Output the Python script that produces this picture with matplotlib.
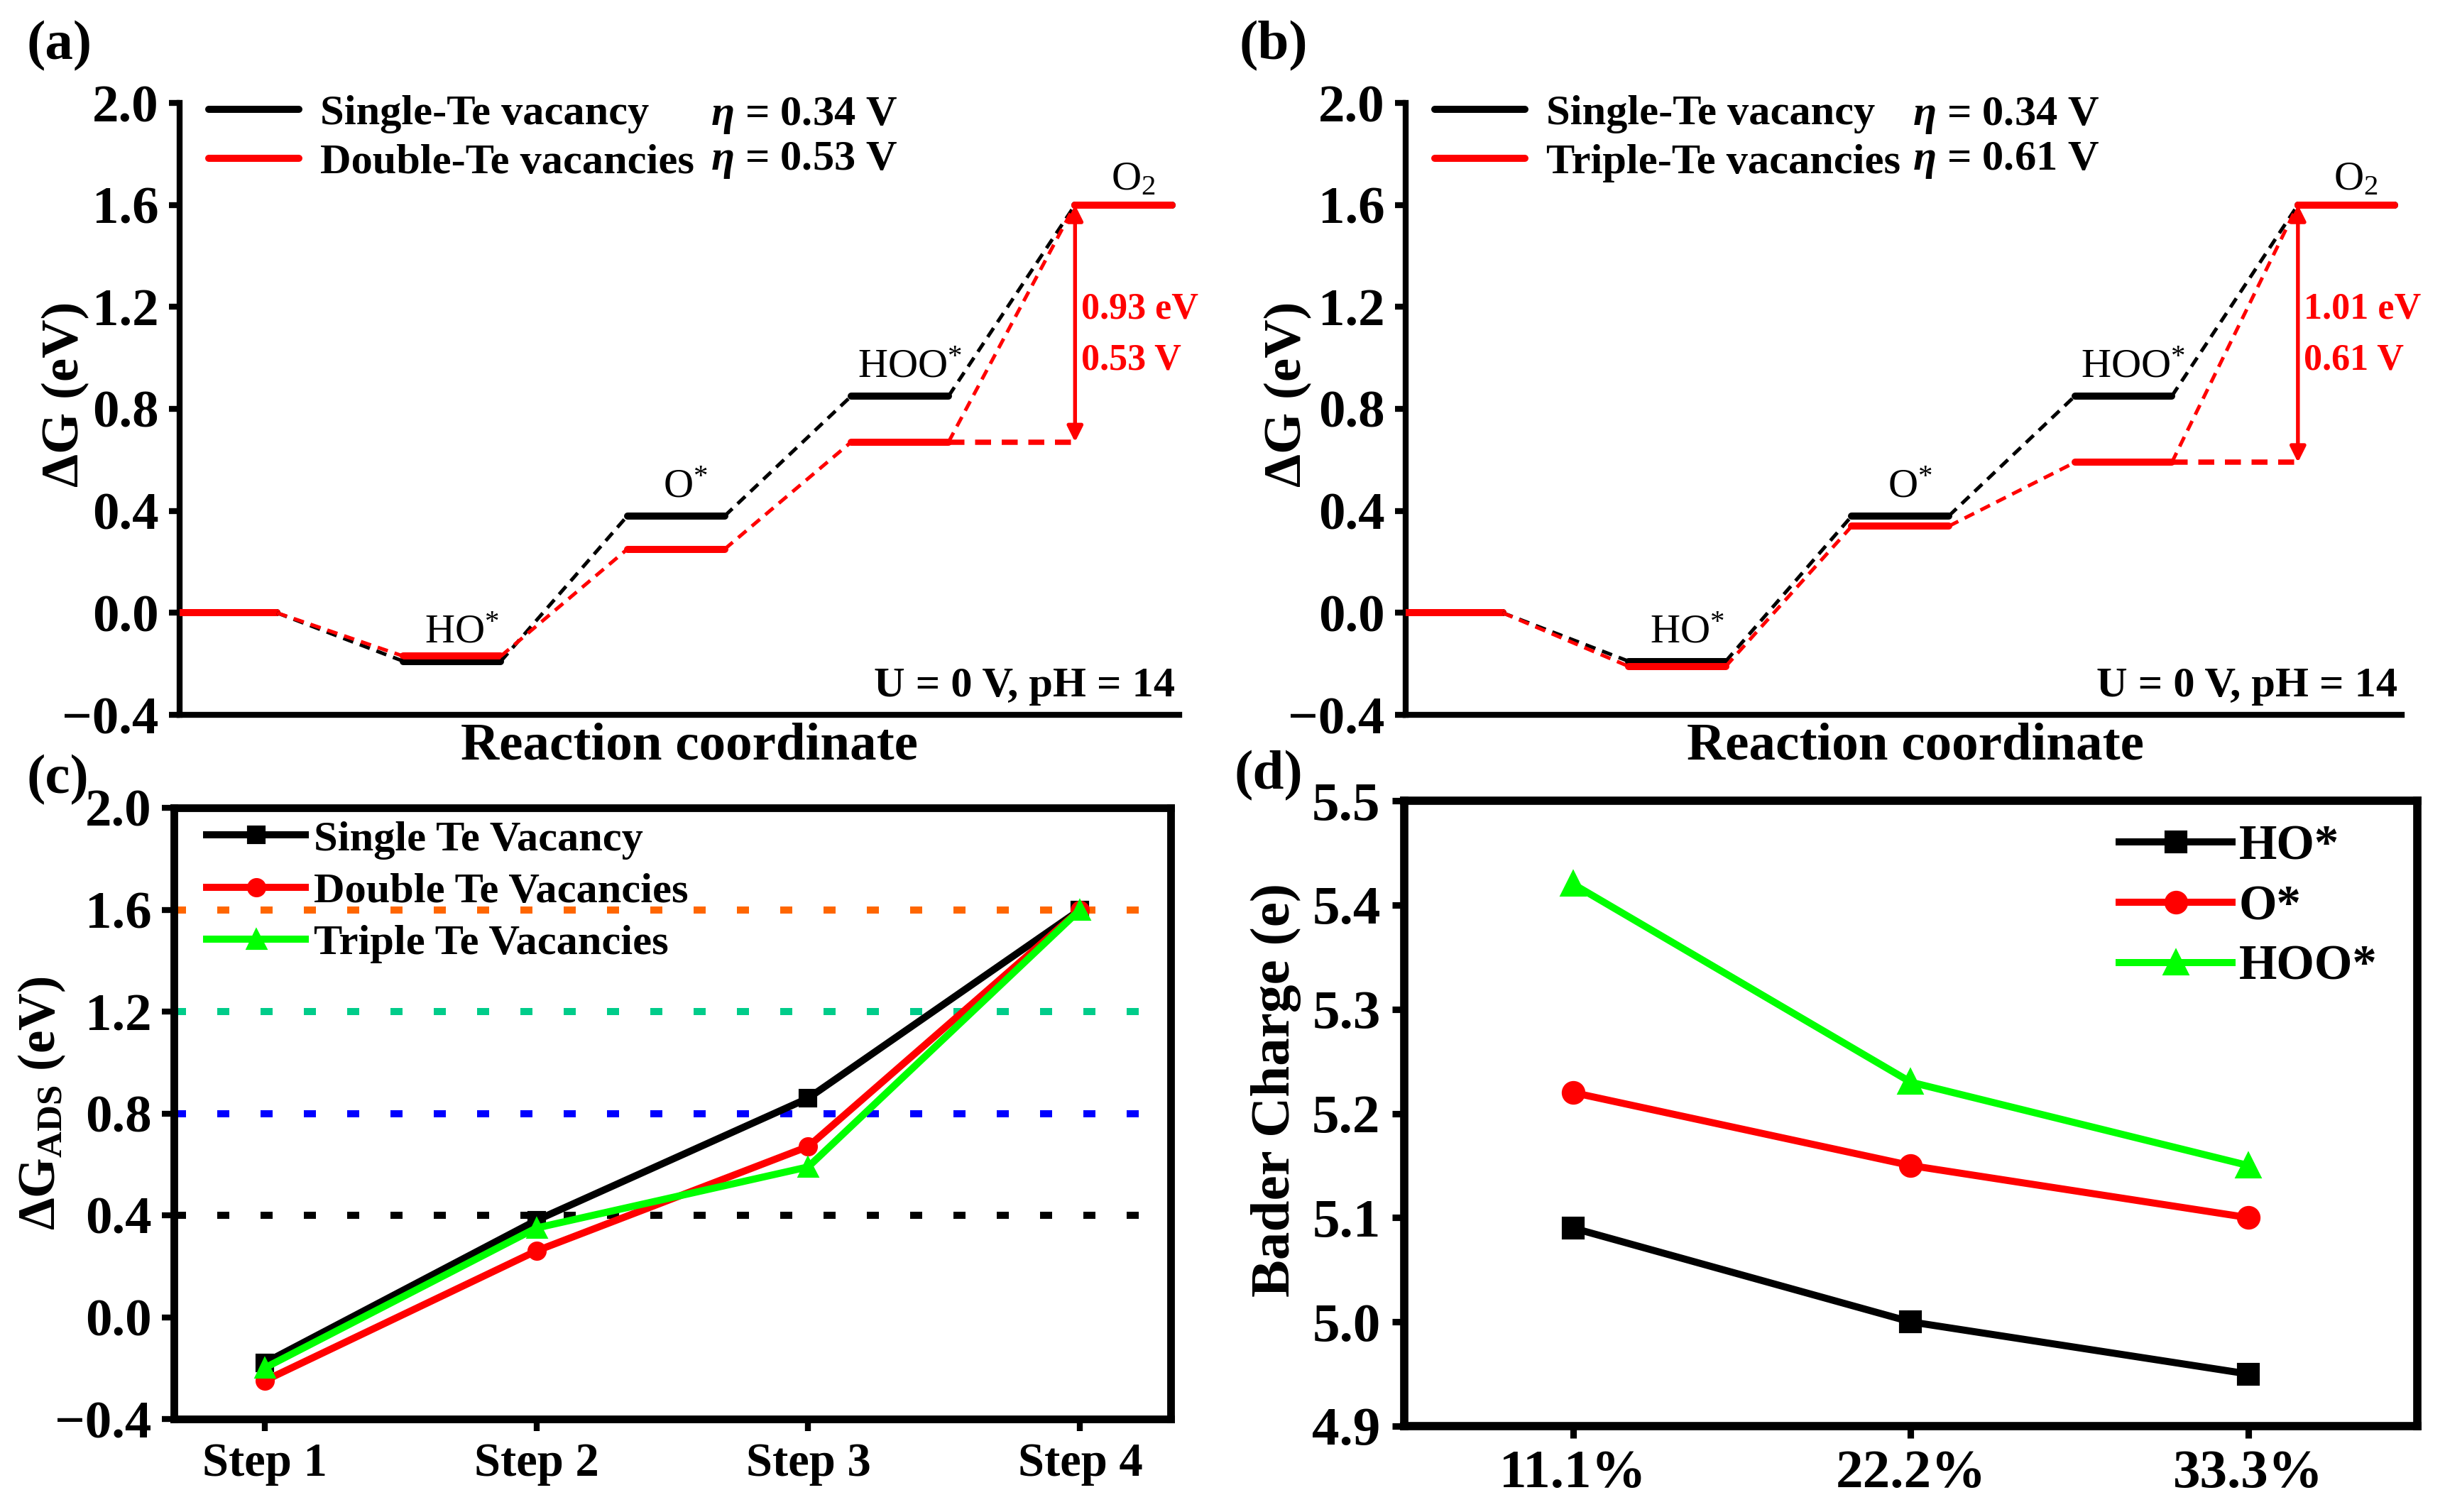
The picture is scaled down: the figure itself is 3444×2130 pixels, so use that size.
import matplotlib
matplotlib.use('Agg')
import matplotlib.pyplot as plt
import numpy as np

plt.rcParams['font.family'] = ['Liberation Serif', 'DejaVu Serif']
plt.rcParams['font.weight'] = 'bold'
plt.rcParams['axes.labelweight'] = 'bold'
plt.rcParams['mathtext.fontset'] = 'custom'
plt.rcParams['mathtext.default'] = 'regular'
plt.rcParams['mathtext.rm'] = 'Liberation Serif'
plt.rcParams['mathtext.it'] = 'Liberation Serif:italic:bold'
plt.rcParams['axes.unicode_minus'] = True

# ---------------- data ----------------
level_labels = ['', 'HO$^{*}$', 'O$^{*}$', 'HOO$^{*}$', 'O$_{2}$']
single_te = [0.0, -0.19, 0.38, 0.85, 1.60]
double_te = [0.0, -0.17, 0.25, 0.67, 1.60]
triple_te = [0.0, -0.21, 0.34, 0.59, 1.60]
eta_single = 0.34
eta_double = 0.53
eta_triple = 0.61
gap_double = 0.93
gap_triple = 1.01

steps = ['Step 1', 'Step 2', 'Step 3', 'Step 4']
ads_single = [-0.18, 0.38, 0.86, 1.60]
ads_double = [-0.25, 0.26, 0.67, 1.60]
ads_triple = [-0.20, 0.35, 0.59, 1.60]
ref_levels = [1.6, 1.2, 0.8, 0.4]
ref_colors = ['#FF6600', '#00CC8A', '#0000FF', '#000000']

coverage = ['11.1%', '22.2%', '33.3%']
bader_ho = [5.09, 5.00, 4.95]
bader_o = [5.22, 5.15, 5.10]
bader_hoo = [5.42, 5.23, 5.15]

W, H = 3445, 2130
fig = plt.figure(figsize=(W / 300, H / 300), dpi=300)

fmt1 = matplotlib.ticker.FuncFormatter(lambda v, p: f'{v:.1f}'.replace('-', '\u2212'))


def frac(l, r, t, b):
    return [l / W, 1 - b / H, (r - l) / W, (b - t) / H]


# ---------------- free-energy panels ----------------
def energy_panel(rect, other, other_label, eta_other, gap, ylab_x, xlab_x, eta_x):
    ax = fig.add_axes(rect)
    pos = np.arange(len(single_te)) * 2.3
    w = 1.0
    # levels
    for i in range(len(single_te)):
        ax.plot([pos[i], pos[i] + w], [single_te[i]] * 2, color='black', lw=2.4,
                solid_capstyle='round', zorder=3,
                label='Single-Te vacancy' if i == 0 else None)
    for i in range(len(other)):
        ax.plot([pos[i], pos[i] + w], [other[i]] * 2, color='red', lw=2.4,
                solid_capstyle='round', zorder=4,
                label=other_label if i == 0 else None)
    # connectors
    for i in range(len(single_te) - 1):
        ax.plot([pos[i] + w, pos[i + 1]], [single_te[i], single_te[i + 1]],
                color='black', lw=1.2, dashes=(3, 2), zorder=5)
        ax.plot([pos[i] + w, pos[i + 1]], [other[i], other[i + 1]],
                color='red', lw=1.2, dashes=(3, 2), zorder=6)
    # horizontal extension + arrow
    ax.plot([pos[3] + w, pos[4]], [other[3], other[3]], color='red', lw=1.8,
            dashes=(3, 2), zorder=6)
    ax.annotate('', xy=(pos[4], other[4]), xytext=(pos[4], other[3]),
                arrowprops=dict(arrowstyle='<|-|>', color='red', lw=1.3,
                                mutation_scale=11, shrinkA=0, shrinkB=0),
                zorder=7)
    ax.text(pos[4] + 0.06, 1.19, f'{gap:.2f} eV', color='red', fontsize=12.5,
            ha='left', va='center')
    ax.text(pos[4] + 0.06, 0.99, f'{eta_other:.2f} V', color='red', fontsize=12.5,
            ha='left', va='center')
    # species labels
    for i in range(1, len(single_te)):
        y = single_te[i] + 0.04 if i < 4 else single_te[i] + 0.025
        ax.text(pos[i] + 0.6, y, level_labels[i], fontsize=14, fontweight='normal',
                ha='center', va='bottom')
    ax.text(0.996, 0.03, 'U = 0 V, pH = 14', transform=ax.transAxes,
            fontsize=14.5, ha='right', va='baseline')
    # eta texts (x in axes fraction, y in data)
    tr = ax.get_yaxis_transform()
    ax.text(eta_x, 1.95, r'$\mathit{\eta}$ = ' + f'{eta_single:.2f} V', fontsize=14.5,
            ha='left', va='center', transform=tr)
    ax.text(eta_x, 1.775, r'$\mathit{\eta}$ = ' + f'{eta_other:.2f} V', fontsize=14.5,
            ha='left', va='center', transform=tr)
    ax.legend(loc='upper left', bbox_to_anchor=(0.029, 1.014), frameon=False,
              fontsize=14.5, handlelength=2.1, handletextpad=0.5,
              borderpad=0, borderaxespad=0, labelspacing=0.22)
    ax.set_xlim(0, 10.27)
    ax.set_ylim(-0.4, 2.0)
    ax.set_yticks(np.arange(-0.4, 2.01, 0.4))
    ax.yaxis.set_major_formatter(fmt1)
    ax.set_xticks([])
    for s in ['top', 'right']:
        ax.spines[s].set_visible(False)
    for s in ['left', 'bottom']:
        ax.spines[s].set_linewidth(2.0)
    ax.tick_params(axis='y', direction='out', length=3.5, width=2.0,
                   labelsize=18, pad=3.5)
    ax.set_ylabel('ΔG (eV)', fontsize=18, va='center', ha='center')
    ax.yaxis.set_label_coords(ylab_x, 0.524)
    ax.set_xlabel('Reaction coordinate', fontsize=18, va='top', ha='center')
    ax.xaxis.set_label_coords(xlab_x, -0.012)
    return ax


axa = energy_panel(frac(253, 1661, 145, 1007), double_te, 'Double-Te vacancies',
                   eta_double, gap_double, -0.114, 0.51, 0.531)
axb = energy_panel(frac(1980, 3383, 145, 1007), triple_te, 'Triple-Te vacancies',
                   eta_triple, gap_triple, -0.118, 0.512, 0.509)

# ---------------- panel (c) ----------------
axc = fig.add_axes(frac(245, 1649, 1138, 1999))
xs = np.arange(1, len(steps) + 1)
for yv, c in zip(ref_levels, ref_colors):
    axc.axhline(yv, color=c, lw=2.4, dashes=(1.7, 4.4), dash_capstyle='butt', zorder=1)
axc.plot(xs, ads_single, color='black', lw=2.4, marker='s', ms=5.5,
         label='Single Te Vacancy', zorder=3)
axc.plot(xs, ads_double, color='red', lw=2.4, marker='o', ms=5.5,
         label='Double Te Vacancies', zorder=4)
axc.plot(xs, ads_triple, color='#00FF00', lw=2.4, marker='^', ms=6,
         label='Triple Te Vacancies', zorder=5)
axc.set_xlim(0.667, 4.333)
axc.set_ylim(-0.4, 2.0)
axc.set_xticks(xs)
axc.set_xticklabels(steps)
axc.set_yticks(np.arange(-0.4, 2.01, 0.4))
axc.yaxis.set_major_formatter(fmt1)
for s in axc.spines.values():
    s.set_linewidth(2.6)
axc.tick_params(axis='y', direction='out', length=4, width=2.0, labelsize=18, pad=3.5)
axc.tick_params(axis='x', direction='out', length=4, width=2.0, labelsize=16, pad=4)
axc.set_ylabel('ΔG$_{ADS}$ (eV)', fontsize=17.5, va='center', ha='center')
axc.yaxis.set_label_coords(-0.132, 0.517)
axc.legend(loc='upper left', bbox_to_anchor=(0.033, 0.98), frameon=False,
           fontsize=14.5, handlelength=2.3, handletextpad=0.2, borderpad=0,
           borderaxespad=0, labelspacing=0.3)

# ---------------- panel (d) ----------------
axd = fig.add_axes(frac(1978, 3405, 1128, 2009))
xd = np.arange(1, len(coverage) + 1)
axd.plot(xd, bader_ho, color='black', lw=2.4, marker='s', ms=6.5, label='HO*')
axd.plot(xd, bader_o, color='red', lw=2.4, marker='o', ms=7, label='O*')
axd.plot(xd, bader_hoo, color='#00FF00', lw=2.4, marker='^', ms=7.5, label='HOO*')
axd.set_xlim(0.5, 3.5)
axd.set_ylim(4.9, 5.5)
axd.set_xticks(xd)
axd.set_xticklabels(coverage)
axd.set_yticks(np.arange(4.9, 5.501, 0.1))
axd.yaxis.set_major_formatter(fmt1)
for s in axd.spines.values():
    s.set_linewidth(2.8)
axd.tick_params(axis='both', direction='out', length=4, width=2.2, labelsize=18.5, pad=4)
axd.set_ylabel('Bader Charge (e)', fontsize=19, va='center', ha='center')
axd.yaxis.set_label_coords(-0.127, 0.538)
axd.legend(loc='upper left', bbox_to_anchor=(0.706, 0.962), frameon=False,
           fontsize=16.5, handlelength=2.3, handletextpad=0.15, borderpad=0,
           borderaxespad=0, labelspacing=0.3)

# ---------------- panel letters ----------------
fig.text(38 / W, 1 - 65 / H, '(a)', fontsize=19, ha='left', va='center')
fig.text(1746 / W, 1 - 65 / H, '(b)', fontsize=19, ha='left', va='center')
fig.text(38 / W, 1 - 1099 / H, '(c)', fontsize=19, ha='left', va='center')
fig.text(1739 / W, 1 - 1093 / H, '(d)', fontsize=19, ha='left', va='center')

fig.savefig('out.png', dpi=300)
